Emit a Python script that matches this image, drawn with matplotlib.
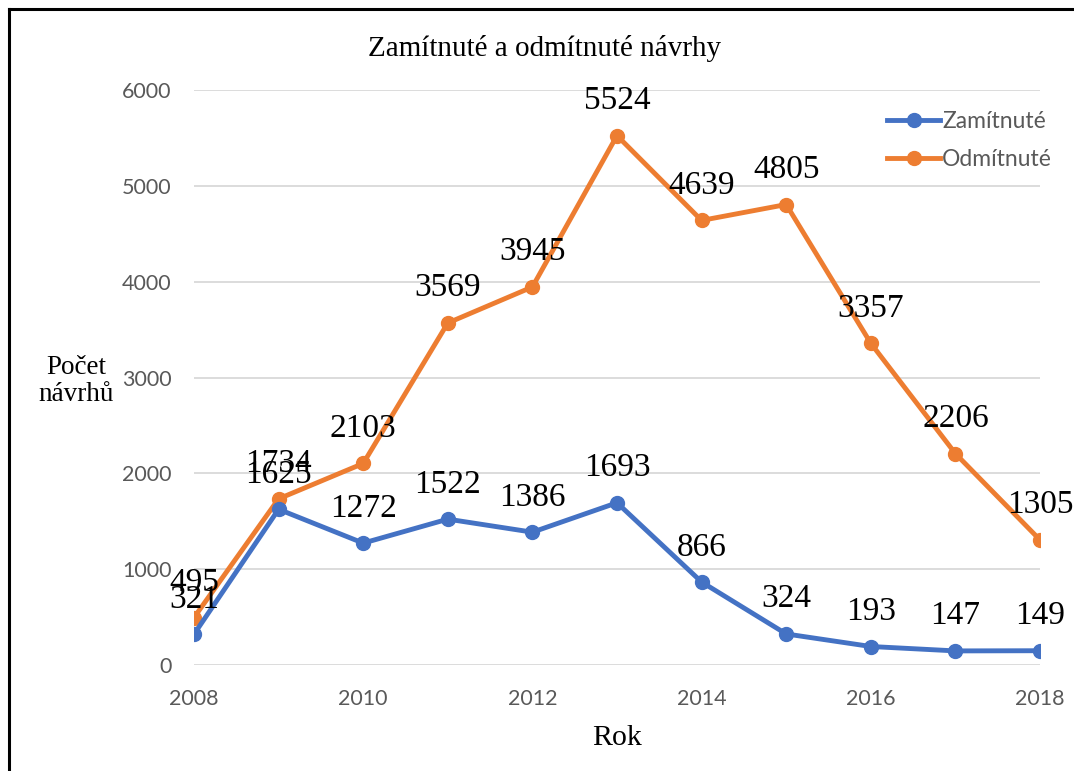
import numpy as np
import matplotlib.pyplot as plt
from matplotlib.lines import Line2D

years = [2008, 2009, 2010, 2011, 2012, 2013, 2014, 2015, 2016, 2017, 2018]
zamitnute = [321, 1625, 1272, 1522, 1386, 1693, 866, 324, 193, 147, 149]
odmitnute = [495, 1734, 2103, 3569, 3945, 5524, 4639, 4805, 3357, 2206, 1305]
xticks = [2008, 2010, 2012, 2014, 2016, 2018]
yticks = [0, 1000, 2000, 3000, 4000, 5000, 6000]

blue = '#4472C4'
orange = '#ED7D31'
gray = '#595959'
serif = 'Liberation Serif'
sans = 'Lato'

fig = plt.figure(figsize=(10.74, 7.71), dpi=100)
ax = fig.add_axes([194/1074, 1 - 665/771, (1040 - 194)/1074, (665 - 90)/771])

ax.plot(years, odmitnute, color=orange, lw=3.5, marker='o', ms=10, label='Odmítnuté', zorder=3)
ax.plot(years, zamitnute, color=blue, lw=3.5, marker='o', ms=10, label='Zamítnuté', zorder=3)

# data labels above points
for x, y in zip(years, zamitnute):
    ax.annotate(str(y), (x, y), xytext=(0, 25), textcoords='offset points',
                ha='center', va='center', fontsize=24, family=serif, zorder=5)
for x, y in zip(years, odmitnute):
    ax.annotate(str(y), (x, y), xytext=(0, 25), textcoords='offset points',
                ha='center', va='center', fontsize=24, family=serif, zorder=5)

ax.set_xlim(2008, 2018)
ax.set_ylim(0, 6000)
ax.set_xticks(xticks)
ax.set_yticks(yticks)
ax.grid(axis='y', color='#d9d9d9', lw=1.3)
ax.set_axisbelow(True)
for s in ax.spines.values():
    s.set_visible(False)
ax.tick_params(length=0, labelsize=15.5, labelcolor=gray)
ax.tick_params(axis='x', pad=17)
ax.tick_params(axis='y', pad=16)
for lab in ax.get_xticklabels() + ax.get_yticklabels():
    lab.set_family(sans)

fig.text(545/1074, 1 - 48/771, 'Zamítnuté a odmítnuté návrhy', ha='center', va='center',
         fontsize=21, family=serif)
fig.text(76/1074, 1 - 381/771, 'Počet\nnávrhů', ha='center', va='center',
         fontsize=19.5, family=serif, linespacing=1.15)
fig.text(617/1074, 1 - 738/771, 'Rok', ha='center', va='center', fontsize=21.5, family=serif)

handles = [Line2D([], [], color=blue, lw=3.5, marker='o', ms=10),
           Line2D([], [], color=orange, lw=3.5, marker='o', ms=10)]
leg = fig.legend(handles, ['Zamítnuté', 'Odmítnuté'], loc='upper left',
                 bbox_to_anchor=(866/1074, 1 - 90/771), frameon=False,
                 handlelength=2.35, handletextpad=0.08, labelspacing=0.75,
                 prop={'family': sans, 'size': 16.5})
for t in leg.get_texts():
    t.set_color(gray)

# border frame (top and left)
fig.add_artist(Line2D([9/1074, 1], [1 - 9/771, 1 - 9/771], color='black', lw=2.2,
                      transform=fig.transFigure))
fig.add_artist(Line2D([9/1074, 9/1074], [0, 1 - 9/771], color='black', lw=2.2,
                      transform=fig.transFigure))

fig.savefig('out.png', dpi=100)
